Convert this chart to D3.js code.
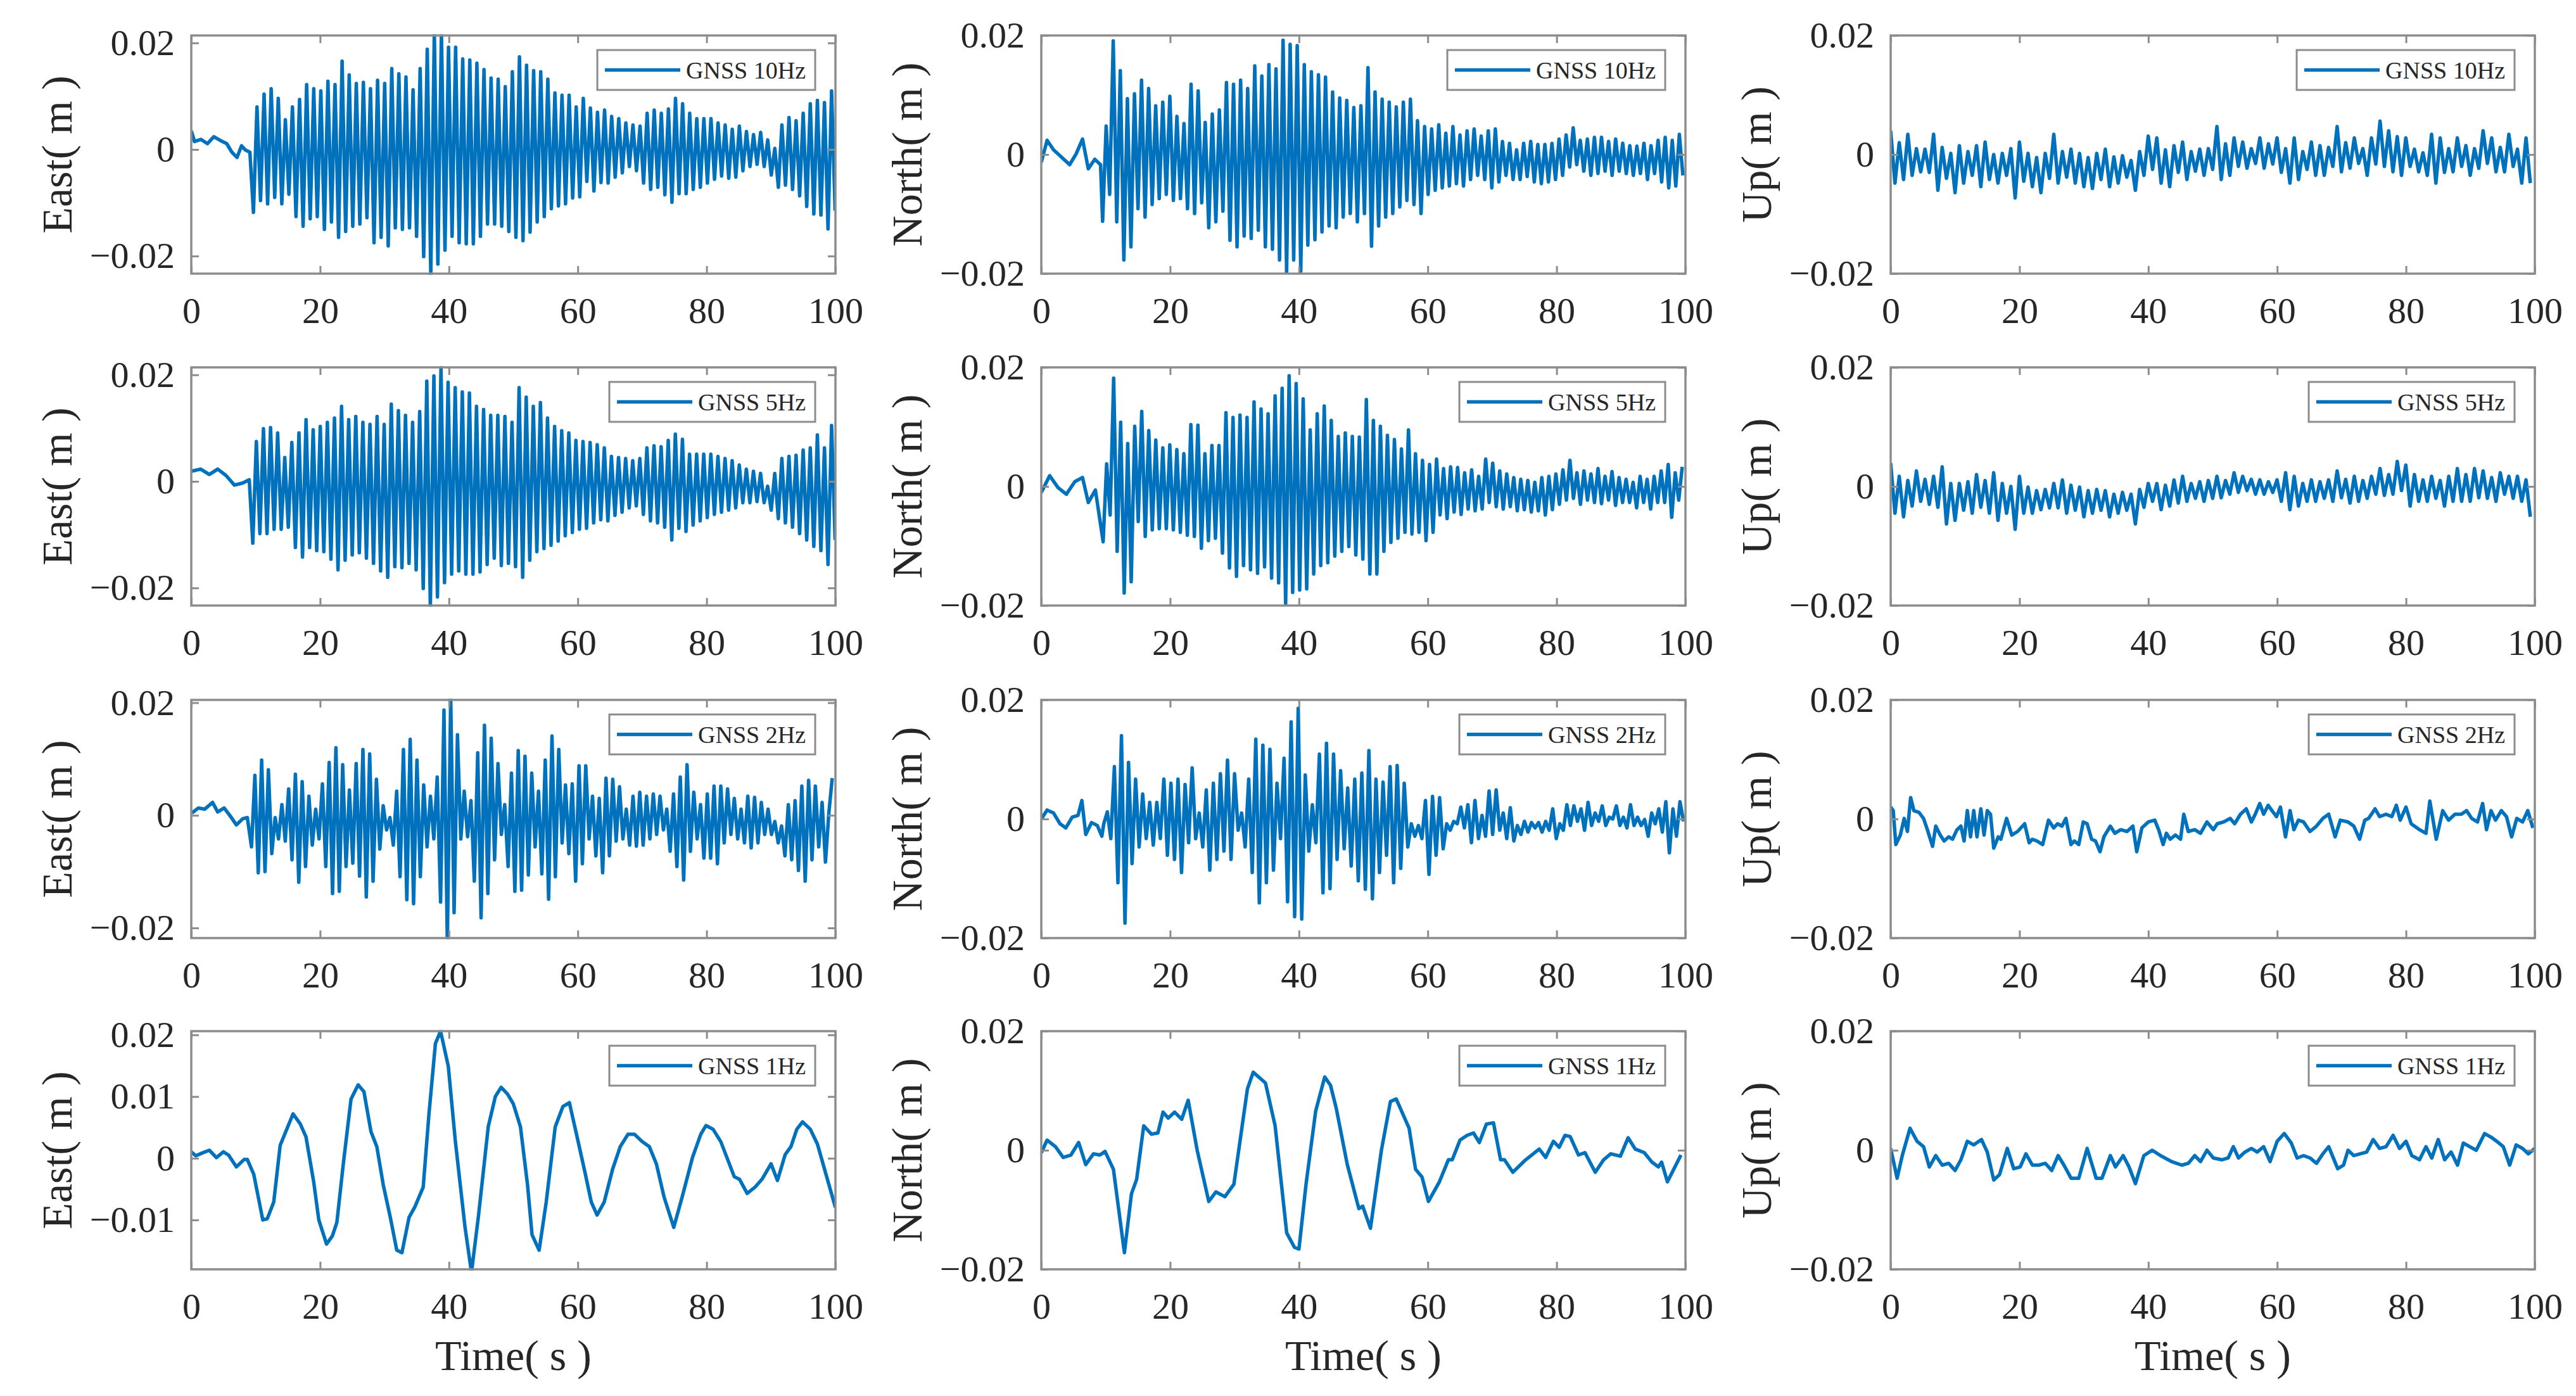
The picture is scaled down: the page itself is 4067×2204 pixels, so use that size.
<!DOCTYPE html>
<html>
<head>
<meta charset="utf-8">
<script src="https://cdn.jsdelivr.net/npm/d3@7"></script>
<style>
  body { margin: 0; background: #fff; }
</style>
</head>
<body>
<svg id="chart"></svg>
<script>
// displacement values, in mm (axes are labelled in m)

var rates = ["10Hz", "5Hz", "2Hz", "1Hz"];
var components = ["East", "North", "Up"];
var xTicks = [0, 20, 40, 60, 80, 100];
var eastDomains = [[-23.3, 21.4], [-23.3, 21.4], [-21.8, 20.5], [-18.0, 20.6]];
var eastTicks = [[-20, 0, 20], [-20, 0, 20], [-20, 0, 20], [-10, 0, 10, 20]];
var nuDomain = [-20, 20];
var nuTicks = [-20, 0, 20];

// ---- East 10Hz: quiet start, then one peak/trough per oscillation cycle
var east10Pre = [[0, 3.5], [0.5, 1.5], [1.5, 1.9], [2.5, 1.1], [3.5, 2.4], [4.5, 1.7], [5.5, 1.1], [6.3, -0.5], [7.1, -1.5], [7.8, 0.7], [8.4, -0.1], [9.1, -0.5]];
var east10Span = [9.65, 99.95];
var east10Lo = [-11.8, -9.6, -10.2, -9.0, -10.2, -8.4, -12.6, -14.4, -13.0, -12.6, -15.0, -13.6, -16.5, -15.4, -14.4, -14.0, -12.8, -17.5, -16.5, -18.1, -14.7, -15.0, -14.7, -16.3, -20.1, -23.5, -21.5, -18.9, -16.3, -17.5, -17.7, -17.7, -16.3, -14.0, -14.0, -14.4, -15.4, -16.5,
  -17.1, -15.5, -13.6, -12.6, -11.1, -10.6, -10.2, -9.1, -8.9, -6.0, -7.8, -6.2, -6.3, -5.2, -4.4, -3.2, -4.0, -6.3, -7.5, -7.1, -8.5, -9.9, -8.3, -8.3, -7.5, -7.1, -6.3, -5.6, -5.0, -5.4, -5.2, -4.0, -3.2, -2.8, -3.2, -4.8, -7.1, -6.7, -7.5, -8.7, -10.7, -12.1, -12.3, -14.9, -11.5];
var east10Hi = [8.0, 10.4, 11.4, 9.6, 5.6, 8.0, 9.4, 12.2, 11.4, 11.0, 12.8, 12.2, 16.6, 14.0, 12.4, 12.6, 11.4, 13.0, 12.4, 15.2, 14.2, 13.6, 11.2, 15.2, 18.8, 22, 22, 19.2, 19.2, 17.0, 16.8, 16.2, 15.0, 13.4, 13.2, 11.8, 14.6,
  17.4, 15.8, 14.8, 14.6, 13.2, 10.6, 10.2, 10.2, 8.0, 9.6, 7.8, 7.0, 7.4, 6.2, 5.8, 5.0, 4.6, 4.4, 6.8, 7.4, 6.8, 7.6, 9.6, 8.6, 6.8, 5.8, 5.8, 5.8, 5.0, 4.6, 3.8, 4.4, 3.4, 2.8, 3.2, 1.8, 0.2, 4.6, 6.0, 5.4, 6.8, 8.6, 9.2, 8.8, 11.0];

// ---- North 10Hz
var north10Pre = [[0, -1.3], [0.9, 2.4], [1.9, 0.8], [3.0, -0.3], [4.4, -1.7], [5.4, 0.1], [6.4, 2.6], [7.3, -2.4], [8.3, -0.8], [9.2, -1.7]];
var north10Span = [9.52, 99.6];
var north10Lo = [-11.2, -6.7, -11.3, -17.7, -15.5, -9.1, -10.5, -8.4, -7.4, -6.7, -7.7, -7.4, -9.1, -9.9, -8.1, -12.3, -11.3, -9.5, -14.4, -15.5, -13.7, -14.1, -12.7, -15.5, -15.9, -17.7, -19.8, -17.7, -19.6, -15.2, -14.3, -13.0, -12.0, -12.3, -10.5, -9.9, -11.3, -9.9, -15.4, -12.0, -10.5, -9.9, -8.8, -7.7, -8.4, -9.9, -6.7, -6.0, -5.6, -5.3, -4.9, -5.3, -4.2, -3.5, -4.2, -5.6, -4.6, -3.5, -4.2, -4.2, -3.7, -4.6, -4.9, -4.6, -4.2, -3.5, -2.1, -1.7, -2.8, -3.5, -3.2, -2.8, -3.5, -2.8, -3.2, -3.5, -3.2, -4.2, -3.2, -4.6, -5.6, -5.3, -3.5];
var north10Hi = [4.8, 19.1, 14.1, 9.4, 10.2, 12.5, 11.1, 8.2, 8.8, 9.8, 6.4, 5.2, 11.8, 10.7, 5.4, 6.8, 7.5, 12.1, 11.8, 12.5, 11.1, 14.9, 13.2, 15.1, 14.4, 19.2, 18.5, 18.3, 15.1, 13.9, 13.4, 13.0, 10.5, 9.5, 9.1, 7.9, 8.2, 14.6, 10.5, 9.3, 8.8, 8.0, 8.8, 9.3, 5.7, 4.7, 4.3, 5.0, 3.6, 4.7, 3.3, 4.0, 4.3, 3.1, 4.0, 4.3, 2.2, 1.9, 0.8, 1.9, 2.2, 1.7, 1.7, 1.9, 2.6, 3.3, 4.5, 2.4, 2.6, 2.9, 2.9, 2.2, 2.6, 1.9, 1.5, 1.4, 1.9, 1.5, 2.4, 2.9, 2.4, 3.4];

// ---- East 5Hz
var east5Pre = [[0, 1.9], [1.45, 2.3], [2.8, 1.3], [4.1, 2.3], [5.4, 1.1], [6.7, -0.7], [8.0, -0.3], [9.0, 0.3]];
var east5Span = [9.55, 99.95];
var east5Lo = [-11.6, -9.8, -9.8, -9.0, -9.0, -8.6, -12.4, -14.2, -12.4, -13.0, -13.2, -14.6, -16.6, -14.8, -13.8, -13.4, -14.4, -15.4, -16.8, -18.0, -16.0, -16.2, -15.4, -16.6, -20.1, -23.5, -21.7, -19.0, -17.4, -16.8, -17.4, -17.4, -17.0, -15.6, -14.4, -15.8, -15.4, -16.0, -18.0, -14.8, -13.2, -12.6, -12.0, -11.2, -10.2, -9.6, -9.0, -8.8, -7.8, -7.2, -7.4, -6.4, -5.8, -5.0, -4.6, -6.2, -7.4, -7.8, -8.6, -11.0, -8.8, -9.4, -8.2, -7.4, -6.8, -6.2, -5.8, -5.4, -5.0, -4.0, -4.0, -3.8, -4.0, -5.4, -7.0, -7.8, -8.6, -9.8, -11.0, -12.2, -13.0, -15.6, -11.0];
var east5Hi = [7.5, 9.9, 10.1, 9.1, 4.5, 7.3, 9.1, 11.6, 9.7, 10.3, 11.1, 11.9, 14.1, 11.6, 12.2, 11.1, 10.7, 12.2, 10.7, 14.5, 13.3, 12.4, 11.1, 13.1, 18.8, 19.8, 21.4, 18.6, 17.6, 16.8, 16.6, 14.1, 13.5, 12.4, 12.4, 12.2, 11.1, 17.6, 15.8, 14.1, 14.8, 11.9, 10.3, 9.5, 9.1, 7.7, 7.5, 7.3, 6.9, 6.3, 4.7, 4.5, 4.3, 3.9, 4.3, 6.3, 6.7, 6.5, 7.7, 8.9, 7.9, 5.1, 5.1, 5.1, 5.1, 4.7, 4.3, 3.9, 3.1, 2.3, 1.9, 1.5, -0.9, 1.5, 4.3, 4.7, 4.9, 5.9, 6.3, 8.7, 6.3, 10.5];

// ---- North 5Hz
var north5Pre = [[0, -1.0], [1.3, 1.8], [2.6, -0.2], [3.9, -1.3], [5.2, 0.8], [6.4, 1.5], [7.3, -2.7], [8.4, -0.6]];
var north5Span = [9.6, 99.5];
var north5Lo = [-9.3, -4.8, -10.9, -17.9, -16.0, -5.9, -8.4, -7.3, -7.1, -7.1, -7.3, -7.7, -8.2, -8.4, -10.4, -9.1, -8.7, -11.2, -13.7, -15.1, -13.3, -14.0, -14.6, -13.5, -15.4, -16.2, -19.7, -17.8, -17.4, -17.2, -14.7, -13.3, -12.8, -11.7, -10.9, -10.1, -11.5, -12.2, -14.7, -14.7, -10.9, -9.4, -8.7, -7.7, -8.0, -7.7, -9.1, -7.7, -4.8, -5.4, -4.3, -4.7, -3.8, -4.1, -3.8, -2.7, -3.4, -3.8, -3.4, -4.1, -3.9, -4.3, -4.1, -4.8, -3.9, -3.0, -2.3, -2.0, -3.0, -2.3, -2.7, -2.9, -2.3, -3.2, -2.7, -2.7, -3.6, -2.7, -3.8, -2.7, -2.7, -5.2, -2.3];
var north5Hi = [3.8, 18.2, 10.8, 7.2, 10.1, 12.6, 9.4, 7.8, 6.5, 7.0, 6.2, 5.5, 10.4, 10.3, 5.5, 6.9, 6.9, 12.4, 11.6, 12.0, 11.6, 14.2, 13.0, 12.2, 15.2, 16.5, 18.6, 17.3, 14.7, 9.5, 12.2, 13.5, 11.1, 8.4, 9.0, 8.4, 8.3, 14.6, 11.1, 10.1, 8.6, 7.9, 6.3, 9.5, 5.5, 4.4, 3.7, 4.6, 3.0, 3.3, 3.2, 2.3, 2.8, 1.7, 4.6, 3.9, 2.6, 2.1, 1.5, 1.2, 1.0, 0.7, 1.5, 1.7, 2.1, 2.8, 4.4, 2.3, 2.6, 2.1, 3.0, 1.7, 2.5, 1.5, 1.2, 0.7, 1.7, 1.2, 1.7, 2.6, 3.7, 2.3, 3.3];

// ---- East 2Hz
var east2Pre = [[0.1, 0.4], [1.1, 1.3], [2.1, 1.1], [3.3, 2.3], [4.1, 0.6], [5.1, 1.3], [6.1, -0.2], [7.0, -1.7], [8.0, -0.6], [8.7, -0.4]];
var east2Span = [9.35, 99.5];
var east2Lo = [-5.6, -10.2, -10.0, -6.8, -4.2, -4.6, -7.9, -11.9, -9.1, -5.3, -4.2, -9.1, -13.9, -13.5, -9.1, -8.5, -10.8, -14.5, -11.7, -6.0, -2.6, -5.3, -10.9, -15.0, -15.7, -10.9, -5.6, -4.2, -15.4, -22.5, -17.3, -4.2, -3.8, -11.7, -18.2, -13.9, -7.9, -3.4, -9.1, -13.5, -13.3, -10.6, -5.6, -10.4, -14.9, -10.9, -4.9, -6.8, -11.7, -8.6, -4.2, -7.2, -10.2, -7.2, -4.6, -4.2, -5.3, -5.5, -5.3, -4.2, -3.4, -2.6, -6.4, -9.1, -11.5, -6.4, -4.2, -7.6, -7.6, -8.6, -4.9, -3.4, -4.2, -4.9, -5.8, -4.9, -3.4, -3.4, -4.9, -7.2, -7.9, -9.8, -11.7, -7.9, -5.6, -8.3];
var east2Hi = [7.1, 9.8, 8.1, -0.4, 1.9, 4.7, 7.3, 6.0, 3.4, 1.1, 5.6, 9.4, 12.0, 9.0, 4.5, 9.2, 11.7, 10.9, 6.4, 1.7, -0.4, 4.3, 11.7, 13.5, 9.8, 5.4, 3.4, 6.8, 18.7, 21, 14.3, 4.3, 2.6, 11.1, 16.0, 13.7, 9.2, 1.9, 7.5, 11.5, 10.5, 7.5, 4.3, 9.8, 14.1, 11.7, 5.4, 5.6, 8.8, 8.8, 3.4, 3.0, 6.6, 6.4, 5.1, 1.1, 3.4, 4.1, 3.4, 3.8, 3.4, 1.1, 3.8, 6.8, 9.0, 4.1, 1.9, 3.8, 5.2, 5.2, 4.7, 3.0, 1.1, 3.4, 3.2, 2.3, 1.1, -1.1, -1.9, 1.9, 2.6, 5.2, 6.2, 5.2, 2.3, 0.4, 6.6];

// ---- North 2Hz
var north2Pre = [[0, 0.0], [0.9, 1.5], [1.9, 1.0], [2.9, -0.8], [3.8, -1.5], [4.8, 0.3], [5.7, 0.6], [6.3, 3.1], [6.9, -2.6], [7.8, -0.6], [8.7, -1.1], [9.4, -2.9]];
var north2Span = [9.7, 99.7];
var north2Lo = [-0.8, -3.3, -10.7, -17.5, -7.5, -4.7, -3.3, -4.4, -3.3, -6.1, -6.8, -9.0, -4.0, -3.3, -4.7, -8.6, -6.8, -5.4, -6.8, -1.9, -4.7, -9.0, -14.1, -10.7, -8.6, -3.3, -13.9, -16.4, -16.8, -5.4, -4.0, -12.4, -11.7, -6.8, -5.0, -7.9, -10.4, -11.8, -13.4, -9.0, -6.1, -10.7, -8.3, -4.7, -2.9, -3.3, -9.3, -6.1, -5.0, -1.9, -0.8, -1.5, -4.0, -3.3, -2.9, -2.6, -1.9, -3.3, -3.7, -2.6, -2.2, -1.5, -2.2, -1.9, -3.3, -1.9, -1.1, -0.4, -1.9, -1.1, -0.4, -1.1, 0.0, -1.1, -1.5, -1.1, -1.1, -2.9, -0.8, -2.2, -5.7, -2.9, -0.4];
var north2Hi = [1.2, 8.8, 14.0, 9.5, 6.7, 4.2, 2.8, 2.8, 6.7, 6.0, 6.7, 5.8, 8.6, 1.0, 4.9, 6.0, 7.6, 9.9, 7.6, 1.0, 6.7, 13.4, 12.4, 11.7, 6.0, 10.2, 16.3, 18.6, 7.4, 2.4, 10.9, 12.7, 10.9, 8.1, 5.2, 6.7, 7.7, 11.5, 6.7, 6.2, 8.8, 9.0, 6.0, -0.8, -1.1, 3.1, 3.8, 3.6, -0.8, -0.4, 2.0, 2.4, 3.1, 0.6, 4.7, 4.9, 1.0, 1.9, -1.1, -0.4, -0.6, -0.6, -0.4, 1.7, -0.8, 2.4, 2.2, 1.7, 2.8, 1.0, 2.2, 0.3, 2.2, 0.3, 2.4, 0.3, -0.1, 1.0, 1.7, 2.9, 1.7, 2.9];

// ---- Up 10Hz and 5Hz: noisy traces, upper and lower wiggle tips
var up10Span = [0, 99.3];
var up10Hi = [4.0, 2.0, 3.4, 1.0, 0.9, 3.4, 1.2, 0.2, 1.5, 0.5, 1.5, 2.1, 0.0, 0.2, 1.0, 2.1, 0.2, -0.5, 0.2, 3.4, 0.5, 0.9, 0.2, -0.5, 0.2, 0.9, -0.4, -0.2, -1.0, 0.5, 3.1, 2.8, 0.8, 1.5, 2.1, 0.5, 0.9, 1.0, 4.7, 1.8, 2.8, 2.1, 1.0, 2.8, 1.8, 2.8, 1.0, 2.8, 0.5, 2.1, 1.5, 1.2, 4.7, 2.0, 2.8, 1.0, 2.8, 5.6, 4.0, 3.0, 2.8, 0.9, 0.3, 3.4, 2.8, 1.0, 2.8, 1.5, 1.0, 4.0, 2.8, 1.2, 3.4, 0.9, 2.8];
var up10Lo = [-4.8, -4.2, -3.5, -2.9, -3.0, -6.0, -4.0, -6.4, -4.8, -3.5, -5.4, -4.2, -4.8, -3.5, -7.3, -4.5, -5.4, -6.4, -4.0, -4.8, -3.8, -4.8, -5.4, -5.7, -4.2, -5.4, -4.8, -3.8, -6.0, -3.5, -2.5, -4.8, -5.4, -3.0, -4.2, -2.8, -3.5, -2.5, -4.2, -3.5, -2.0, -2.3, -1.5, -2.3, -1.6, -3.0, -4.8, -4.2, -2.5, -3.5, -3.5, -2.0, -2.9, -2.3, -1.5, -3.5, -1.6, -2.0, -2.9, -3.5, -2.0, -2.9, -3.5, -4.8, -3.0, -2.9, -2.0, -3.5, -2.3, -1.5, -2.9, -2.9, -2.0, -4.8, -4.8];
var up5Span = [0, 99.3];
var up5Hi = [3.9, 1.7, 1.0, 2.6, 1.2, 1.7, 3.3, 0.5, 0.5, 0.8, 2.0, 1.0, 2.3, 0.5, 0.0, 1.7, -0.1, -0.7, -0.5, 0.5, 1.1, 0.2, -0.1, -0.7, -0.5, -0.7, -1.3, -1.0, -1.3, -0.5, 0.5, 0.5, 0.2, 1.1, 1.7, 0.5, 0.8, 1.0, 1.7, 1.0, 2.3, 1.7, 1.2, 1.1, 0.8, 1.1, 2.3, 1.7, 0.5, 1.1, 0.8, 1.1, 2.6, 1.2, 1.7, 1.0, 1.7, 3.0, 2.0, 4.2, 3.6, 2.0, 1.1, 1.7, 1.0, 1.7, 3.0, 2.0, 3.0, 2.6, 1.5, 2.3, 1.7, 1.7, 1.1];
var up5Lo = [-4.5, -5.1, -3.3, -2.5, -3.0, -3.5, -6.3, -5.7, -4.0, -4.5, -3.5, -4.5, -5.7, -4.5, -7.2, -4.5, -4.5, -3.9, -3.6, -3.6, -4.5, -4.0, -5.1, -4.5, -4.0, -5.1, -4.5, -4.0, -6.3, -3.5, -2.5, -3.9, -3.3, -2.8, -2.5, -2.0, -2.5, -2.0, -1.9, -1.3, -1.0, -0.7, -1.3, -1.3, -1.0, -2.5, -3.9, -3.3, -2.5, -2.5, -2.0, -2.5, -1.9, -2.8, -2.5, -2.0, -1.3, -1.5, -1.3, -0.7, -3.3, -2.5, -2.5, -2.0, -3.3, -2.5, -2.5, -2.5, -1.9, -2.0, -2.5, -1.3, -2.0, -2.5, -5.1];

// ---- Up 2Hz, [time s, value mm]
var up2 = [[0, 2.0], [0.4, 1.4], [0.8, -4.3], [1.5, -2.7], [2.1, 0.1], [2.6, -2.1], [3.1, 3.6], [3.6, 1.4], [4.4, 1.1], [5.1, 0.1], [5.7, -1.8], [6.5, -4.6], [7.0, -1.2], [7.7, -2.7], [8.3, -3.7], [9.0, -3.0], [9.6, -3.4], [10.3, -1.8], [10.9, -1.2], [11.4, -3.7], [11.9, 1.4], [12.4, -3.0], [12.9, 1.4], [13.4, -3.0], [14.0, 1.7], [14.5, -2.7], [15.0, 1.4], [15.5, 0.8], [16.0, -4.9], [16.7, -3.0], [17.1, -3.4], [18.0, 0.1], [18.8, -2.7], [19.7, -2.1], [20.8, -0.8], [21.5, -4.0], [22.0, -3.4], [22.7, -3.7], [23.6, -4.3], [24.5, -0.2], [25.3, -1.5], [25.9, -0.8], [26.6, -1.2], [27.2, 0.1], [28.0, -4.3], [28.5, -3.7], [29.2, -4.3], [29.9, -0.5], [30.5, -0.8], [31.2, -3.4], [31.8, -3.7], [32.5, -5.5], [33.1, -3.0], [34.1, -1.2], [34.8, -2.4], [35.7, -1.8], [36.7, -2.1], [37.6, -1.2], [38.2, -5.5], [39.0, -1.5], [40.0, -0.5], [41.0, -0.2], [41.6, -1.8], [42.3, -4.3], [42.8, -2.4], [43.4, -3.4], [44.2, -2.7], [45.0, -3.4], [45.5, 0.8], [46.2, -2.1], [47.2, -1.8], [48.1, -2.4], [49.1, -0.5], [50.1, -1.8], [50.7, -0.8], [51.7, -0.5], [52.7, 0.1], [53.4, -0.8], [54.3, 0.8], [55.2, 1.7], [56.0, -0.5], [56.6, 0.8], [57.3, 2.6], [57.9, 0.8], [58.6, 2.3], [59.2, 1.4], [59.9, 0.4], [60.5, 2.0], [61.3, -3.0], [62.0, 1.4], [62.6, -1.8], [63.3, -0.2], [64.1, -0.5], [65.1, -2.1], [66.1, -1.2], [67.1, 0.1], [68.0, 0.8], [69.0, -3.0], [69.8, -0.2], [71.0, -0.5], [71.9, -1.2], [72.8, -3.4], [73.6, -0.2], [74.2, 0.1], [75.2, 1.7], [75.9, 0.4], [76.9, 0.8], [77.8, 0.4], [78.5, 2.3], [79.1, -0.2], [80.0, 2.0], [80.8, -0.8], [82.1, -1.8], [83.1, -2.4], [83.7, 3.0], [84.7, -3.4], [85.7, 1.4], [86.6, -0.2], [87.6, 0.8], [88.6, 0.8], [89.4, 1.4], [90.2, 0.1], [91.1, -0.5], [91.9, 2.6], [92.5, -1.8], [93.2, 1.4], [93.9, -0.2], [94.8, 1.4], [95.6, 0.4], [96.4, -3.0], [97.2, 0.1], [98.1, -0.5], [98.9, 1.4], [99.7, -1.5]];

// ---- 1Hz traces, [time s, value mm]
var east1 = [[0, 1.05], [0.7, 0.4], [1.7, 0.85], [2.8, 1.3], [3.9, 0.1], [5.0, 1.05], [5.8, 0.5], [7.0, -1.4], [8.2, -0.2], [8.7, -0.2], [9.7, -2.6], [11.1, -10.0], [11.8, -9.8], [12.8, -7.1], [13.8, 2.1], [15.8, 7.2], [16.9, 5.6], [17.8, 3.5], [19.0, -3.8], [19.8, -10.0], [21.0, -13.9], [21.9, -12.6], [22.6, -10.4], [23.6, -0.9], [24.8, 9.6], [25.9, 11.9], [26.8, 10.8], [27.9, 4.3], [28.8, 1.9], [29.8, -4.3], [30.9, -9.6], [31.9, -14.9], [32.7, -15.3], [33.8, -9.6], [34.7, -7.9], [36.0, -4.7], [36.9, 7.2], [37.9, 18.6], [38.7, 20.6], [39.9, 14.9], [41.0, 2.7], [42.5, -11.2], [43.5, -18.5], [44.6, -9.2], [46.1, 5.1], [47.2, 10.0], [48.1, 11.5], [49.1, 10.4], [50.0, 8.8], [51.1, 5.1], [52.2, -4.3], [52.9, -12.4], [54.0, -14.9], [55.1, -7.1], [56.5, 5.1], [57.7, 8.4], [58.7, 9.0], [59.8, 3.9], [61.1, -2.2], [62.1, -7.1], [63.0, -9.2], [64.1, -7.1], [65.4, -1.8], [66.6, 1.9], [67.8, 3.9], [68.8, 3.9], [70.0, 2.7], [71.1, 1.9], [72.2, -0.9], [73.4, -6.3], [74.9, -11.2], [76.2, -6.3], [77.8, 0.1], [79.1, 3.9], [79.9, 5.3], [81.0, 4.7], [82.2, 2.7], [84.3, -3.0], [85.1, -3.4], [86.3, -5.7], [87.5, -4.7], [88.6, -3.4], [90.0, -0.9], [91.0, -3.6], [92.2, 0.6], [93.1, 1.9], [94.0, 4.7], [94.9, 5.9], [96.1, 4.7], [97.2, 2.3], [100, -8.0]];
var north1 = [[0, -0.4], [0.9, 1.7], [2.2, 0.6], [3.4, -1.2], [4.6, -0.8], [5.8, 1.3], [6.9, -2.4], [8.1, -0.6], [9.1, -0.8], [9.9, -0.2], [11.2, -3.2], [12.9, -17.2], [14.0, -7.3], [14.8, -4.9], [15.9, 4.1], [17.1, 2.7], [18.1, 2.9], [18.9, 6.4], [19.7, 5.4], [20.7, 6.4], [21.8, 5.2], [22.8, 8.4], [24.2, 0.0], [26.0, -8.6], [27.1, -7.0], [28.5, -7.8], [29.9, -5.7], [32.0, 10.3], [32.9, 13.1], [34.8, 11.3], [36.3, 4.1], [38.1, -13.9], [39.3, -16.3], [40.0, -16.6], [41.1, -5.7], [42.6, 6.6], [44.0, 12.3], [44.9, 10.9], [45.8, 7.0], [47.5, -2.4], [49.3, -9.8], [49.9, -9.4], [51.1, -13.1], [52.8, 0.0], [54.2, 8.2], [55.1, 8.6], [57.1, 3.7], [58.1, -3.2], [59.1, -4.5], [60.1, -8.6], [61.8, -5.3], [63.2, -1.6], [63.8, -1.6], [65.0, 1.7], [66.1, 2.5], [67.1, 2.9], [68.0, 1.3], [69.1, 4.4], [70.2, 4.6], [71.3, -1.6], [71.9, -1.6], [73.2, -3.7], [75.2, -1.6], [77.3, 0.2], [78.3, -1.2], [79.5, 1.5], [80.4, 0.5], [81.3, 2.5], [82.1, 2.3], [83.4, -0.8], [84.4, -0.4], [86.0, -3.7], [87.3, -1.6], [88.4, -0.6], [89.9, -1.0], [91.1, 2.1], [92.2, 0.2], [93.6, -0.4], [94.8, -2.0], [95.8, -2.8], [96.3, -2.0], [97.2, -5.3], [99.3, -0.8]];
var up1 = [[0, 0.3], [1.0, -4.7], [1.8, -0.9], [3.0, 3.7], [4.1, 1.5], [5.1, 0.6], [6.0, -2.8], [7.0, -0.9], [8.0, -2.5], [9.0, -2.2], [10.0, -3.4], [10.9, -1.6], [11.9, 1.5], [12.9, 0.9], [14.1, 1.8], [15.0, -0.3], [16.0, -5.0], [16.9, -4.1], [18.1, 0.3], [19.1, -3.1], [20.1, -2.8], [21.0, -0.6], [22.0, -2.5], [23.0, -2.5], [24.0, -2.2], [25.0, -3.4], [26.0, -0.9], [26.9, -2.5], [28.0, -4.7], [29.2, -4.7], [30.5, 0.3], [31.2, -2.2], [31.9, -4.7], [32.8, -4.7], [34.1, -0.9], [34.9, -2.8], [36.1, -0.9], [37.0, -2.8], [38.0, -5.6], [39.3, -0.9], [40.6, 0.0], [41.9, -0.9], [43.6, -1.9], [45.2, -2.5], [46.2, -2.2], [47.2, -0.9], [48.1, -1.9], [49.1, 0.0], [50.1, -1.3], [51.4, -1.6], [52.4, -1.3], [53.2, 0.6], [54.0, -1.3], [55.0, -0.3], [56.0, 0.3], [56.9, -0.3], [57.9, 0.6], [58.9, -1.9], [60.0, 1.5], [61.1, 2.8], [62.2, 1.2], [63.1, -1.3], [64.1, -0.9], [65.1, -1.3], [66.1, -2.2], [67.1, -0.6], [68.0, 0.6], [69.4, -3.1], [70.3, -2.5], [71.0, 0.0], [71.9, -0.9], [72.9, -0.6], [73.9, -0.3], [74.9, 1.8], [75.9, 0.3], [76.9, 0.6], [78.0, 2.5], [79.0, 0.3], [80.0, 1.5], [80.9, -0.9], [82.1, -1.6], [83.1, 0.6], [84.0, -1.3], [85.0, 1.8], [86.0, -1.6], [87.0, -0.3], [88.0, -2.5], [88.9, 1.2], [89.9, 0.6], [90.9, 0.0], [92.2, 2.8], [93.2, 2.2], [94.1, 1.5], [95.1, 0.6], [96.1, -2.5], [97.1, 0.9], [98.1, 0.3], [99.0, -0.6], [100, 0.3]];

// alternate two lists of tips and spread them evenly over a time span
function zigzag(span, a, b) {
  var vals = [];
  var n = Math.max(a.length, b.length);
  for (var i = 0; i < n; i++) {
    if (i < a.length) vals.push(a[i]);
    if (i < b.length) vals.push(b[i]);
  }
  var step = (span[1] - span[0]) / (vals.length - 1);
  return vals.map(function(v, i) { return [span[0] + i * step, v]; });
}

var series = {
  East: [
    east10Pre.concat(zigzag(east10Span, east10Lo, east10Hi)),
    east5Pre.concat(zigzag(east5Span, east5Lo, east5Hi)),
    east2Pre.concat(zigzag(east2Span, east2Lo, east2Hi)),
    east1
  ],
  North: [
    north10Pre.concat(zigzag(north10Span, north10Lo, north10Hi)),
    north5Pre.concat(zigzag(north5Span, north5Lo, north5Hi)),
    north2Pre.concat(zigzag(north2Span, north2Lo, north2Hi)),
    north1
  ],
  Up: [
    zigzag(up10Span, up10Hi, up10Lo),
    zigzag(up5Span, up5Hi, up5Lo),
    up2,
    up1
  ]
};

var W = 4067, H = 2204;
var colX = [302, 1644, 2985];
var rowY = [56, 580, 1105, 1628];
var pw = 1017, ph = 376;
var lineColor = "#0072bd";
var frameColor = "#8c8c8c";
var textColor = "#262626";
var font = "'Liberation Serif', 'Times New Roman', serif";
var lineW = 5.5;

function tickFmt(v) {
  if (v === 0) return "0";
  return (v < 0 ? "\u2212" : "") + (Math.abs(v) / 1000).toFixed(2);
}

var svg = d3.select("#chart").attr("width", W).attr("height", H)
  .style("background", "#fff");

function styleAxis(sel) {
  sel.attr("font-family", font).attr("font-size", 58);
  sel.select(".domain").remove();
  sel.selectAll(".tick line").attr("stroke", frameColor).attr("stroke-width", 3);
  sel.selectAll(".tick text").attr("fill", textColor);
}

components.forEach(function(comp, c) {
  rates.forEach(function(rate, r) {
    var g = svg.append("g").attr("transform", "translate(" + colX[c] + "," + rowY[r] + ")");
    var x = d3.scaleLinear().domain([0, 100]).range([0, pw]);
    var dom = comp == "East" ? eastDomains[r] : nuDomain;
    var yt = comp == "East" ? eastTicks[r] : nuTicks;
    var y = d3.scaleLinear().domain(dom).range([ph, 0]);

    var clipId = "clip-" + c + "-" + r;
    g.append("clipPath").attr("id", clipId)
      .append("rect").attr("x", -1).attr("y", -2).attr("width", pw + 2).attr("height", ph + 4);

    var line = d3.line()
      .x(function(d) { return x(d[0]); })
      .y(function(d) { return y(d[1]); });

    g.append("path")
      .datum(series[comp][r])
      .attr("clip-path", "url(#" + clipId + ")")
      .attr("d", line)
      .attr("fill", "none")
      .attr("stroke", lineColor)
      .attr("stroke-width", lineW)
      .attr("stroke-linejoin", "round");

    // axes, ticks point inward on all four sides
    g.append("g").attr("transform", "translate(0," + ph + ")")
      .call(d3.axisBottom(x).tickValues(xTicks).tickSize(-12).tickPadding(37))
      .call(styleAxis);
    g.append("g")
      .call(d3.axisTop(x).tickValues(xTicks).tickSize(-12).tickFormat(""))
      .call(styleAxis);
    g.append("g")
      .call(d3.axisLeft(y).tickValues(yt).tickSize(-12).tickPadding(26).tickFormat(tickFmt))
      .call(styleAxis);
    g.append("g").attr("transform", "translate(" + pw + ",0)")
      .call(d3.axisRight(y).tickValues(yt).tickSize(-12).tickFormat(""))
      .call(styleAxis);

    g.append("rect")
      .attr("width", pw).attr("height", ph)
      .attr("fill", "none")
      .attr("stroke", frameColor)
      .attr("stroke-width", 3.5);

    // legend
    var lg = g.append("g");
    var box = lg.append("rect");
    var txt = lg.append("text")
      .attr("font-family", font).attr("font-size", 38)
      .attr("fill", textColor)
      .text("GNSS " + rate);
    var tw = txt.node().getComputedTextLength();
    var bw = 12 + 119 + 9 + tw + 15;
    var bx = pw - 32 - bw, by = 23, bh = 63;
    box.attr("x", bx).attr("y", by).attr("width", bw).attr("height", bh)
      .attr("fill", "#fff").attr("stroke", frameColor).attr("stroke-width", 3);
    lg.append("line")
      .attr("x1", bx + 12).attr("x2", bx + 131)
      .attr("y1", by + bh / 2).attr("y2", by + bh / 2)
      .attr("stroke", lineColor).attr("stroke-width", lineW);
    txt.attr("x", bx + 140).attr("y", by + bh / 2 + 13);

    // axis titles
    g.append("text")
      .attr("transform", "translate(-213," + (ph / 2) + ") rotate(-90)")
      .attr("text-anchor", "middle")
      .attr("dy", "0.35em")
      .attr("font-family", font).attr("font-size", 68)
      .attr("fill", textColor)
      .text(comp + "( m )");

    if (r == rates.length - 1) {
      g.append("text")
        .attr("x", pw / 2).attr("y", ph + 159)
        .attr("text-anchor", "middle")
        .attr("font-family", font).attr("font-size", 68)
        .attr("fill", textColor)
        .text("Time( s )");
    }
  });
});
</script>
</body>
</html>
